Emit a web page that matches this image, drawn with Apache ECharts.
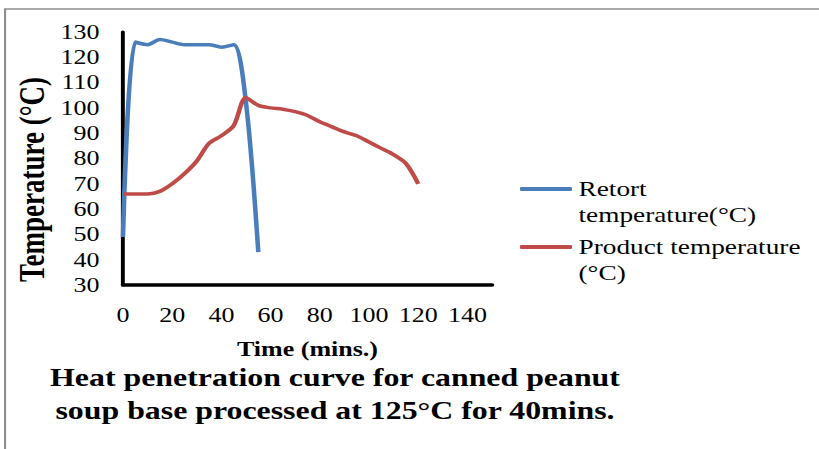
<!DOCTYPE html>
<html>
<head>
<meta charset="utf-8">
<script src="https://cdn.jsdelivr.net/npm/echarts@6/dist/echarts.min.js"></script>
<style>
  html, body { margin: 0; padding: 0; background: #fff; overflow: hidden; }
  /* The chart is laid out on a narrower canvas and widened horizontally,
     giving the broad serif lettering of the printed figure. */
  #chart { width: 630px; height: 449px; transform: scaleX(1.3); transform-origin: 0 0; }
</style>
</head>
<body>
<div id="chart"></div>
<script>
// Time axis (minutes) and temperature axis (°C) tick labels
const xTickLabels = [0, 20, 40, 60, 80, 100, 120, 140];
const yTickLabels = [30, 40, 50, 60, 70, 80, 90, 100, 110, 120, 130];

// Retort temperature readings
const retortTime = [0, 5, 10, 15, 20, 25, 30, 35, 40, 45, 50, 55];
const retortTemp = [49, 126, 125, 127, 126, 125, 125, 125, 124, 125, 102, 43];

// Product (can centre) temperature readings
const productTime = [0, 5, 10, 15, 20, 25, 30, 35, 40, 45, 50, 55, 60, 65, 70, 75, 80, 85, 90, 95, 100, 105, 110, 115, 120];
const productTemp = [66, 66, 66, 67, 70, 74, 79, 86, 89, 93, 104, 101, 100, 99.5, 98.5, 97, 94.5, 92.5, 90.5, 89, 86.5, 84, 81.5, 78, 70];

const seriesNames = ['Retort temperature(°C)', 'Product temperature (°C)'];
const legendLines = ['Retort\ntemperature(°C)', 'Product temperature\n(°C)'];
const titleLines = ['Heat penetration curve for canned peanut', 'soup base processed at 125°C for 40mins.'];

const pairs = (xs, ys) => xs.map((x, i) => [x, ys[i]]);

const serif = 'Liberation Serif, Times New Roman, serif';
const chart = echarts.init(document.getElementById('chart'), null, { renderer: 'svg' });

// One legend block per series; a leading blank line keeps the
// legend line level with the first line of its wrapped label.
const legendBase = (name, label, top) => ({
  data: [name],
  left: 400,
  top: top,
  padding: 0,
  orient: 'vertical',
  icon: 'roundRect',
  itemWidth: 40,
  itemHeight: 4,
  itemGap: 4,
  selectedMode: false,
  formatter: () => ' \n' + label,
  textStyle: {
    fontFamily: serif,
    fontSize: 21,
    color: '#000',
    lineHeight: 26
  }
});

chart.setOption({
  backgroundColor: '#fff',
  animation: false,
  title: {
    text: titleLines.join('\n'),
    left: 257.7,
    top: 361,
    padding: 0,
    textAlign: 'center',
    textStyle: {
      fontFamily: serif,
      fontWeight: 'bold',
      fontSize: 24.5,
      lineHeight: 33,
      color: '#000'
    }
  },
  legend: [
    legendBase(seriesNames[0], legendLines[0], 150),
    legendBase(seriesNames[1], legendLines[1], 208)
  ],
  grid: { left: 94.6, top: 32, width: 283.9, height: 253, containLabel: false },
  xAxis: {
    type: 'value',
    min: 0,
    max: 150,
    interval: 20,
    name: 'Time (mins.)',
    nameLocation: 'middle',
    nameGap: 54,
    nameTextStyle: { fontFamily: serif, fontWeight: 'bold', fontSize: 20, color: '#000' },
    axisLine: { show: true, lineStyle: { color: '#000', width: 3.5 } },
    axisTick: { show: false },
    splitLine: { show: false },
    axisLabel: {
      margin: 20,
      fontFamily: serif,
      fontSize: 20,
      color: '#000',
      formatter: v => (xTickLabels.includes(v) ? String(v) : '')
    }
  },
  yAxis: {
    type: 'value',
    min: 30,
    max: 130,
    interval: 10,
    name: 'Temperature (°C)',
    nameLocation: 'middle',
    nameRotate: 90,
    nameGap: 56,
    nameTextStyle: {
      fontFamily: serif, fontWeight: 'bold', fontSize: 27, color: '#000',
      padding: [0, 42, 0, 0]
    },
    axisLine: { show: true, onZero: false, lineStyle: { color: '#000', width: 3 } },
    axisTick: { show: false },
    splitLine: { show: false },
    axisLabel: {
      margin: 18,
      fontFamily: serif,
      fontSize: 20,
      color: '#000',
      formatter: v => (yTickLabels.includes(v) ? String(v) : '')
    }
  },
  graphic: [{
    type: 'rect',
    silent: true,
    shape: { x: 3.9, y: 9, width: 700, height: 500 },
    style: { fill: 'none', stroke: '#8c8c8c', lineWidth: 1.6 }
  }],
  series: [
    {
      name: seriesNames[0],
      type: 'line',
      data: pairs(retortTime, retortTemp),
      smooth: 0.3,
      showSymbol: false,
      lineStyle: { color: '#4a7ebb', width: 3.5 },
      itemStyle: { color: '#4a7ebb' },
      z: 3
    },
    {
      name: seriesNames[1],
      type: 'line',
      data: pairs(productTime, productTemp),
      smooth: 0.3,
      showSymbol: false,
      lineStyle: { color: '#be4b48', width: 3.5 },
      itemStyle: { color: '#be4b48' },
      z: 3
    }
  ]
});
</script>
</body>
</html>
